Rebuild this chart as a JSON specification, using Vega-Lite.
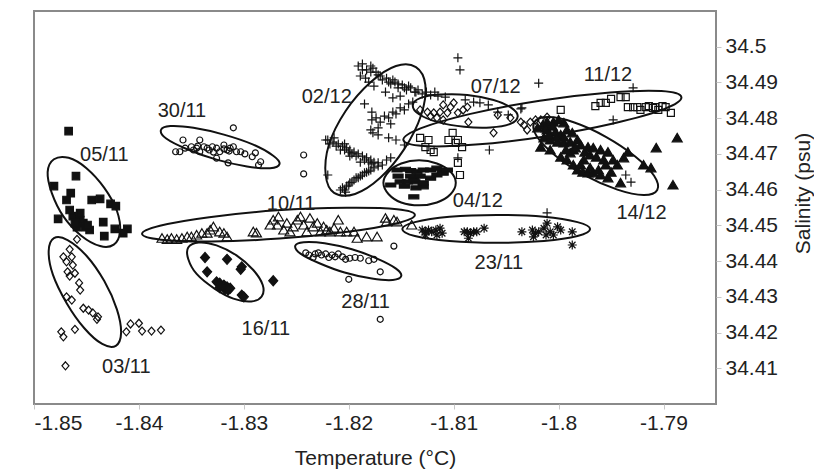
{
  "$schema": "https://vega.github.io/schema/vega-lite/v6.json",
  "width": 682,
  "height": 393,
  "autosize": {"type": "none"},
  "padding": {"left": 34, "top": 11, "right": 98, "bottom": 67},
  "background": "white",
  "config": {
    "view": {"stroke": "#8a8a8a", "strokeWidth": 2},
    "font": "Liberation Sans"
  },
  "datasets": {
    "pts": [
      {"d":"05/11","t":-1.8467,"s":34.4764},{"d":"05/11","t":-1.8460,"s":34.4638},{"d":"05/11","t":-1.8481,"s":34.4610},{"d":"05/11","t":-1.8465,"s":34.4590},{"d":"05/11","t":-1.8469,"s":34.4571},{"d":"05/11","t":-1.8445,"s":34.4571},{"d":"05/11","t":-1.8437,"s":34.4574},{"d":"05/11","t":-1.8427,"s":34.4560},{"d":"05/11","t":-1.8422,"s":34.4554},{"d":"05/11","t":-1.8477,"s":34.4518},{"d":"05/11","t":-1.8463,"s":34.4526},{"d":"05/11","t":-1.8456,"s":34.4515},{"d":"05/11","t":-1.8453,"s":34.4506},{"d":"05/11","t":-1.8459,"s":34.4495},{"d":"05/11","t":-1.8451,"s":34.4495},{"d":"05/11","t":-1.8447,"s":34.4487},{"d":"05/11","t":-1.8434,"s":34.4509},{"d":"05/11","t":-1.8433,"s":34.4470},{"d":"05/11","t":-1.8423,"s":34.4490},{"d":"05/11","t":-1.8411,"s":34.4490},{"d":"05/11","t":-1.8415,"s":34.4478},{"d":"05/11","t":-1.8461,"s":34.4506},{"d":"05/11","t":-1.8449,"s":34.4501},{"d":"05/11","t":-1.8466,"s":34.4543},{"d":"05/11","t":-1.8456,"s":34.4534},
      {"d":"03/11","t":-1.8459,"s":34.4461},{"d":"03/11","t":-1.8466,"s":34.4433},{"d":"03/11","t":-1.8472,"s":34.4412},{"d":"03/11","t":-1.8464,"s":34.4412},{"d":"03/11","t":-1.8469,"s":34.4398},{"d":"03/11","t":-1.8463,"s":34.4389},{"d":"03/11","t":-1.8468,"s":34.4370},{"d":"03/11","t":-1.8461,"s":34.4366},{"d":"03/11","t":-1.8457,"s":34.4339},{"d":"03/11","t":-1.8466,"s":34.4358},{"d":"03/11","t":-1.8456,"s":34.4319},{"d":"03/11","t":-1.8469,"s":34.4300},{"d":"03/11","t":-1.8464,"s":34.4291},{"d":"03/11","t":-1.8453,"s":34.4268},{"d":"03/11","t":-1.8448,"s":34.4263},{"d":"03/11","t":-1.8444,"s":34.4255},{"d":"03/11","t":-1.8440,"s":34.4237},{"d":"03/11","t":-1.8439,"s":34.4244},{"d":"03/11","t":-1.8474,"s":34.4202},{"d":"03/11","t":-1.8472,"s":34.4188},{"d":"03/11","t":-1.8461,"s":34.4209},{"d":"03/11","t":-1.8412,"s":34.4202},{"d":"03/11","t":-1.8408,"s":34.4224},{"d":"03/11","t":-1.8400,"s":34.4226},{"d":"03/11","t":-1.8397,"s":34.4204},{"d":"03/11","t":-1.8388,"s":34.4204},{"d":"03/11","t":-1.8379,"s":34.4207},{"d":"03/11","t":-1.8470,"s":34.4107},
      {"d":"30/11","t":-1.8310,"s":34.4773},{"d":"30/11","t":-1.8358,"s":34.4739},{"d":"30/11","t":-1.8365,"s":34.4706},{"d":"30/11","t":-1.8361,"s":34.4706},{"d":"30/11","t":-1.8356,"s":34.4716},{"d":"30/11","t":-1.8350,"s":34.4720},{"d":"30/11","t":-1.8345,"s":34.4716},{"d":"30/11","t":-1.8342,"s":34.4739},{"d":"30/11","t":-1.8338,"s":34.4720},{"d":"30/11","t":-1.8335,"s":34.4716},{"d":"30/11","t":-1.8330,"s":34.4720},{"d":"30/11","t":-1.8326,"s":34.4716},{"d":"30/11","t":-1.8323,"s":34.4706},{"d":"30/11","t":-1.8319,"s":34.4725},{"d":"30/11","t":-1.8316,"s":34.4711},{"d":"30/11","t":-1.8313,"s":34.4716},{"d":"30/11","t":-1.8310,"s":34.4720},{"d":"30/11","t":-1.8307,"s":34.4706},{"d":"30/11","t":-1.8303,"s":34.4706},{"d":"30/11","t":-1.8299,"s":34.4700},{"d":"30/11","t":-1.8292,"s":34.4692},{"d":"30/11","t":-1.8289,"s":34.4703},{"d":"30/11","t":-1.8286,"s":34.4669},{"d":"30/11","t":-1.8284,"s":34.4678},{"d":"30/11","t":-1.8326,"s":34.4688},{"d":"30/11","t":-1.8315,"s":34.4675},{"d":"30/11","t":-1.8342,"s":34.4706},{"d":"30/11","t":-1.8243,"s":34.4697},{"d":"30/11","t":-1.8243,"s":34.4644},{"d":"30/11","t":-1.8348,"s":34.4711},{"d":"30/11","t":-1.8344,"s":34.4722},{"d":"30/11","t":-1.8333,"s":34.4711},{"d":"30/11","t":-1.8329,"s":34.4705},{"d":"30/11","t":-1.8319,"s":34.4714},{"d":"30/11","t":-1.8314,"s":34.4708},
      {"d":"10/11","t":-1.8378,"s":34.4464},{"d":"10/11","t":-1.8373,"s":34.4461},{"d":"10/11","t":-1.8369,"s":34.4464},{"d":"10/11","t":-1.8364,"s":34.4461},{"d":"10/11","t":-1.8359,"s":34.4464},{"d":"10/11","t":-1.8354,"s":34.4468},{"d":"10/11","t":-1.8350,"s":34.4468},{"d":"10/11","t":-1.8345,"s":34.4473},{"d":"10/11","t":-1.8340,"s":34.4478},{"d":"10/11","t":-1.8335,"s":34.4478},{"d":"10/11","t":-1.8332,"s":34.4487},{"d":"10/11","t":-1.8329,"s":34.4496},{"d":"10/11","t":-1.8323,"s":34.4482},{"d":"10/11","t":-1.8316,"s":34.4468},{"d":"10/11","t":-1.8319,"s":34.4478},{"d":"10/11","t":-1.8291,"s":34.4482},{"d":"10/11","t":-1.8288,"s":34.4479},{"d":"10/11","t":-1.8275,"s":34.4501},{"d":"10/11","t":-1.8272,"s":34.4515},{"d":"10/11","t":-1.8268,"s":34.4501},{"d":"10/11","t":-1.8267,"s":34.4524},{"d":"10/11","t":-1.8262,"s":34.4487},{"d":"10/11","t":-1.8259,"s":34.4506},{"d":"10/11","t":-1.8256,"s":34.4482},{"d":"10/11","t":-1.8253,"s":34.4496},{"d":"10/11","t":-1.8249,"s":34.4515},{"d":"10/11","t":-1.8246,"s":34.4524},{"d":"10/11","t":-1.8243,"s":34.4501},{"d":"10/11","t":-1.8240,"s":34.4482},{"d":"10/11","t":-1.8237,"s":34.4520},{"d":"10/11","t":-1.8234,"s":34.4496},{"d":"10/11","t":-1.8230,"s":34.4506},{"d":"10/11","t":-1.8227,"s":34.4482},{"d":"10/11","t":-1.8224,"s":34.4496},{"d":"10/11","t":-1.8221,"s":34.4487},{"d":"10/11","t":-1.8218,"s":34.4482},{"d":"10/11","t":-1.8214,"s":34.4492},{"d":"10/11","t":-1.8210,"s":34.4515},{"d":"10/11","t":-1.8208,"s":34.4482},{"d":"10/11","t":-1.8202,"s":34.4482},{"d":"10/11","t":-1.8195,"s":34.4482},{"d":"10/11","t":-1.8192,"s":34.4464},{"d":"10/11","t":-1.8183,"s":34.4468},{"d":"10/11","t":-1.8173,"s":34.4468},{"d":"10/11","t":-1.8165,"s":34.4520},{"d":"10/11","t":-1.8164,"s":34.4510},{"d":"10/11","t":-1.8157,"s":34.4515},{"d":"10/11","t":-1.8154,"s":34.4510},{"d":"10/11","t":-1.8140,"s":34.4501},
      {"d":"16/11","t":-1.8337,"s":34.4410},{"d":"16/11","t":-1.8316,"s":34.4405},{"d":"16/11","t":-1.8335,"s":34.4370},{"d":"16/11","t":-1.8303,"s":34.4377},{"d":"16/11","t":-1.8302,"s":34.4384},{"d":"16/11","t":-1.8326,"s":34.4342},{"d":"16/11","t":-1.8323,"s":34.4338},{"d":"16/11","t":-1.8319,"s":34.4333},{"d":"16/11","t":-1.8316,"s":34.4328},{"d":"16/11","t":-1.8313,"s":34.4324},{"d":"16/11","t":-1.8323,"s":34.4326},{"d":"16/11","t":-1.8318,"s":34.4321},{"d":"16/11","t":-1.8315,"s":34.4319},{"d":"16/11","t":-1.8302,"s":34.4305},{"d":"16/11","t":-1.8300,"s":34.4300},{"d":"16/11","t":-1.8272,"s":34.4345},
      {"d":"28/11","t":-1.8241,"s":34.4423},{"d":"28/11","t":-1.8238,"s":34.4417},{"d":"28/11","t":-1.8234,"s":34.4410},{"d":"28/11","t":-1.8232,"s":34.4420},{"d":"28/11","t":-1.8229,"s":34.4423},{"d":"28/11","t":-1.8226,"s":34.4417},{"d":"28/11","t":-1.8222,"s":34.4420},{"d":"28/11","t":-1.8219,"s":34.4410},{"d":"28/11","t":-1.8216,"s":34.4417},{"d":"28/11","t":-1.8213,"s":34.4412},{"d":"28/11","t":-1.8210,"s":34.4420},{"d":"28/11","t":-1.8206,"s":34.4412},{"d":"28/11","t":-1.8203,"s":34.4405},{"d":"28/11","t":-1.8199,"s":34.4408},{"d":"28/11","t":-1.8194,"s":34.4410},{"d":"28/11","t":-1.8189,"s":34.4408},{"d":"28/11","t":-1.8181,"s":34.4401},{"d":"28/11","t":-1.8176,"s":34.4405},{"d":"28/11","t":-1.8170,"s":34.4370},{"d":"28/11","t":-1.8200,"s":34.4349},{"d":"28/11","t":-1.8157,"s":34.4442},{"d":"28/11","t":-1.8170,"s":34.4237},
      {"d":"23/11","t":-1.8130,"s":34.4487},{"d":"23/11","t":-1.8127,"s":34.4482},{"d":"23/11","t":-1.8124,"s":34.4487},{"d":"23/11","t":-1.8121,"s":34.4482},{"d":"23/11","t":-1.8117,"s":34.4487},{"d":"23/11","t":-1.8113,"s":34.4492},{"d":"23/11","t":-1.8111,"s":34.4478},{"d":"23/11","t":-1.8127,"s":34.4473},{"d":"23/11","t":-1.8116,"s":34.4473},{"d":"23/11","t":-1.8090,"s":34.4482},{"d":"23/11","t":-1.8087,"s":34.4482},{"d":"23/11","t":-1.8084,"s":34.4478},{"d":"23/11","t":-1.8081,"s":34.4482},{"d":"23/11","t":-1.8078,"s":34.4482},{"d":"23/11","t":-1.8071,"s":34.4492},{"d":"23/11","t":-1.8086,"s":34.4464},{"d":"23/11","t":-1.8035,"s":34.4482},{"d":"23/11","t":-1.8025,"s":34.4487},{"d":"23/11","t":-1.8022,"s":34.4478},{"d":"23/11","t":-1.8019,"s":34.4482},{"d":"23/11","t":-1.8014,"s":34.4492},{"d":"23/11","t":-1.8011,"s":34.4506},{"d":"23/11","t":-1.8008,"s":34.4482},{"d":"23/11","t":-1.8005,"s":34.4473},{"d":"23/11","t":-1.8001,"s":34.4496},{"d":"23/11","t":-1.7998,"s":34.4487},{"d":"23/11","t":-1.7987,"s":34.4482},{"d":"23/11","t":-1.7987,"s":34.4445},{"d":"23/11","t":-1.8024,"s":34.4468},{"d":"23/11","t":-1.8012,"s":34.4473},
      {"d":"04/12","t":-1.8154,"s":34.4655},{"d":"04/12","t":-1.8146,"s":34.4657},{"d":"04/12","t":-1.8141,"s":34.4653},{"d":"04/12","t":-1.8135,"s":34.4650},{"d":"04/12","t":-1.8129,"s":34.4655},{"d":"04/12","t":-1.8122,"s":34.4655},{"d":"04/12","t":-1.8116,"s":34.4660},{"d":"04/12","t":-1.8111,"s":34.4653},{"d":"04/12","t":-1.8151,"s":34.4622},{"d":"04/12","t":-1.8144,"s":34.4622},{"d":"04/12","t":-1.8137,"s":34.4622},{"d":"04/12","t":-1.8129,"s":34.4619},{"d":"04/12","t":-1.8122,"s":34.4632},{"d":"04/12","t":-1.8116,"s":34.4641},{"d":"04/12","t":-1.8110,"s":34.4646},{"d":"04/12","t":-1.8106,"s":34.4655},{"d":"04/12","t":-1.8129,"s":34.4608},{"d":"04/12","t":-1.8138,"s":34.4580},{"d":"04/12","t":-1.8160,"s":34.4613},{"d":"04/12","t":-1.8138,"s":34.4627},{"d":"04/12","t":-1.8153,"s":34.4638},{"d":"04/12","t":-1.8141,"s":34.4638},{"d":"04/12","t":-1.8132,"s":34.4638},{"d":"04/12","t":-1.8147,"s":34.4610},{"d":"04/12","t":-1.8136,"s":34.4605},
      {"d":"02/12","t":-1.8191,"s":34.4946},{"d":"02/12","t":-1.8187,"s":34.4952},{"d":"02/12","t":-1.8183,"s":34.4935},{"d":"02/12","t":-1.8179,"s":34.4929},{"d":"02/12","t":-1.8184,"s":34.4912},{"d":"02/12","t":-1.8177,"s":34.4940},{"d":"02/12","t":-1.8172,"s":34.4921},{"d":"02/12","t":-1.8168,"s":34.4907},{"d":"02/12","t":-1.8164,"s":34.4912},{"d":"02/12","t":-1.8160,"s":34.4896},{"d":"02/12","t":-1.8156,"s":34.4901},{"d":"02/12","t":-1.8153,"s":34.4885},{"d":"02/12","t":-1.8149,"s":34.4893},{"d":"02/12","t":-1.8145,"s":34.4879},{"d":"02/12","t":-1.8141,"s":34.4885},{"d":"02/12","t":-1.8137,"s":34.4873},{"d":"02/12","t":-1.8134,"s":34.4879},{"d":"02/12","t":-1.8130,"s":34.4868},{"d":"02/12","t":-1.8126,"s":34.4873},{"d":"02/12","t":-1.8122,"s":34.4865},{"d":"02/12","t":-1.8118,"s":34.4873},{"d":"02/12","t":-1.8115,"s":34.4862},{"d":"02/12","t":-1.8189,"s":34.4918},{"d":"02/12","t":-1.8181,"s":34.4901},{"d":"02/12","t":-1.8176,"s":34.4890},{"d":"02/12","t":-1.8165,"s":34.4873},{"d":"02/12","t":-1.8158,"s":34.4857},{"d":"02/12","t":-1.8151,"s":34.4862},
      {"d":"02/12","t":-1.8187,"s":34.4935},{"d":"02/12","t":-1.8179,"s":34.4946},{"d":"02/12","t":-1.8174,"s":34.4929},{"d":"02/12","t":-1.8170,"s":34.4918},{"d":"02/12","t":-1.8162,"s":34.4901},{"d":"02/12","t":-1.8158,"s":34.4907},{"d":"02/12","t":-1.8153,"s":34.4896},{"d":"02/12","t":-1.8147,"s":34.4885},{"d":"02/12","t":-1.8143,"s":34.4890},{"d":"02/12","t":-1.8136,"s":34.4873},
      {"d":"02/12","t":-1.8178,"s":34.4795},{"d":"02/12","t":-1.8174,"s":34.4801},{"d":"02/12","t":-1.8170,"s":34.4789},{"d":"02/12","t":-1.8166,"s":34.4806},{"d":"02/12","t":-1.8162,"s":34.4801},{"d":"02/12","t":-1.8158,"s":34.4817},{"d":"02/12","t":-1.8155,"s":34.4812},{"d":"02/12","t":-1.8151,"s":34.4829},{"d":"02/12","t":-1.8147,"s":34.4823},{"d":"02/12","t":-1.8143,"s":34.4840},{"d":"02/12","t":-1.8139,"s":34.4845},{"d":"02/12","t":-1.8172,"s":34.4773},{"d":"02/12","t":-1.8160,"s":34.4784},
      {"d":"02/12","t":-1.8185,"s":34.4840},{"d":"02/12","t":-1.8178,"s":34.4817},{"d":"02/12","t":-1.8179,"s":34.4767},{"d":"02/12","t":-1.8172,"s":34.4753},{"d":"02/12","t":-1.8162,"s":34.4745},{"d":"02/12","t":-1.8155,"s":34.4739},{"d":"02/12","t":-1.8147,"s":34.4725},{"d":"02/12","t":-1.8177,"s":34.4759},
      {"d":"02/12","t":-1.8222,"s":34.4739},{"d":"02/12","t":-1.8220,"s":34.4739},{"d":"02/12","t":-1.8215,"s":34.4733},{"d":"02/12","t":-1.8210,"s":34.4728},{"d":"02/12","t":-1.8206,"s":34.4722},{"d":"02/12","t":-1.8202,"s":34.4717},{"d":"02/12","t":-1.8199,"s":34.4711},{"d":"02/12","t":-1.8195,"s":34.4705},{"d":"02/12","t":-1.8191,"s":34.4700},{"d":"02/12","t":-1.8187,"s":34.4694},{"d":"02/12","t":-1.8183,"s":34.4689},{"d":"02/12","t":-1.8179,"s":34.4683},{"d":"02/12","t":-1.8176,"s":34.4677},{"d":"02/12","t":-1.8172,"s":34.4675},{"d":"02/12","t":-1.8168,"s":34.4669},{"d":"02/12","t":-1.8164,"s":34.4683},{"d":"02/12","t":-1.8160,"s":34.4689},{"d":"02/12","t":-1.8208,"s":34.4711},{"d":"02/12","t":-1.8199,"s":34.4694},{"d":"02/12","t":-1.8189,"s":34.4677},
      {"d":"02/12","t":-1.8218,"s":34.4728},{"d":"02/12","t":-1.8212,"s":34.4722},{"d":"02/12","t":-1.8204,"s":34.4711},{"d":"02/12","t":-1.8200,"s":34.4705},{"d":"02/12","t":-1.8197,"s":34.4700},{"d":"02/12","t":-1.8193,"s":34.4694},{"d":"02/12","t":-1.8185,"s":34.4683},{"d":"02/12","t":-1.8181,"s":34.4677},{"d":"02/12","t":-1.8178,"s":34.4672},{"d":"02/12","t":-1.8214,"s":34.4745},{"d":"02/12","t":-1.8204,"s":34.4728},
      {"d":"02/12","t":-1.8206,"s":34.4605},{"d":"02/12","t":-1.8202,"s":34.4610},{"d":"02/12","t":-1.8199,"s":34.4619},{"d":"02/12","t":-1.8195,"s":34.4627},{"d":"02/12","t":-1.8191,"s":34.4633},{"d":"02/12","t":-1.8187,"s":34.4641},{"d":"02/12","t":-1.8183,"s":34.4649},{"d":"02/12","t":-1.8179,"s":34.4655},{"d":"02/12","t":-1.8176,"s":34.4661},{"d":"02/12","t":-1.8172,"s":34.4666},{"d":"02/12","t":-1.8203,"s":34.4593},{"d":"02/12","t":-1.8220,"s":34.4641},{"d":"02/12","t":-1.8208,"s":34.4599},
      {"d":"02/12","t":-1.8204,"s":34.4599},{"d":"02/12","t":-1.8200,"s":34.4613},{"d":"02/12","t":-1.8197,"s":34.4621},{"d":"02/12","t":-1.8193,"s":34.4633},{"d":"02/12","t":-1.8189,"s":34.4638},{"d":"02/12","t":-1.8185,"s":34.4647},{"d":"02/12","t":-1.8181,"s":34.4652},
      {"d":"02/12","t":-1.8096,"s":34.4969},{"d":"02/12","t":-1.8094,"s":34.4935},{"d":"02/12","t":-1.8019,"s":34.4898},{"d":"02/12","t":-1.8035,"s":34.4829},{"d":"02/12","t":-1.8066,"s":34.4711},{"d":"02/12","t":-1.7948,"s":34.4795},{"d":"02/12","t":-1.7929,"s":34.4885},{"d":"02/12","t":-1.7936,"s":34.4641},{"d":"02/12","t":-1.7931,"s":34.4621},{"d":"02/12","t":-1.8096,"s":34.4689},{"d":"02/12","t":-1.8011,"s":34.4535},
      {"d":"02/12","t":-1.8108,"s":34.4859},{"d":"02/12","t":-1.8089,"s":34.4851},{"d":"02/12","t":-1.8081,"s":34.4845},{"d":"02/12","t":-1.8075,"s":34.4843},{"d":"02/12","t":-1.8067,"s":34.4837},{"d":"02/12","t":-1.8058,"s":34.4817},{"d":"02/12","t":-1.8048,"s":34.4809},{"d":"02/12","t":-1.8036,"s":34.4826},
      {"d":"07/12","t":-1.8132,"s":34.4823},{"d":"07/12","t":-1.8125,"s":34.4817},{"d":"07/12","t":-1.8119,"s":34.4815},{"d":"07/12","t":-1.8113,"s":34.4817},{"d":"07/12","t":-1.8106,"s":34.4815},{"d":"07/12","t":-1.8103,"s":34.4831},{"d":"07/12","t":-1.8100,"s":34.4843},{"d":"07/12","t":-1.8096,"s":34.4815},{"d":"07/12","t":-1.8091,"s":34.4823},{"d":"07/12","t":-1.8087,"s":34.4831},{"d":"07/12","t":-1.8086,"s":34.4789},{"d":"07/12","t":-1.8116,"s":34.4801},{"d":"07/12","t":-1.8110,"s":34.4795},{"d":"07/12","t":-1.8110,"s":34.4837},{"d":"07/12","t":-1.8122,"s":34.4806},{"d":"07/12","t":-1.8062,"s":34.4759},{"d":"07/12","t":-1.8058,"s":34.4809},{"d":"07/12","t":-1.8046,"s":34.4801},{"d":"07/12","t":-1.8036,"s":34.4789},{"d":"07/12","t":-1.8033,"s":34.4781},{"d":"07/12","t":-1.8030,"s":34.4767},{"d":"07/12","t":-1.8027,"s":34.4789},{"d":"07/12","t":-1.8022,"s":34.4795},{"d":"07/12","t":-1.8017,"s":34.4795},{"d":"07/12","t":-1.8011,"s":34.4803},
      {"d":"11/12","t":-1.7965,"s":34.4834},{"d":"11/12","t":-1.7960,"s":34.4843},{"d":"11/12","t":-1.7955,"s":34.4843},{"d":"11/12","t":-1.7950,"s":34.4854},{"d":"11/12","t":-1.7941,"s":34.4859},{"d":"11/12","t":-1.7936,"s":34.4859},{"d":"11/12","t":-1.7934,"s":34.4831},{"d":"11/12","t":-1.7929,"s":34.4831},{"d":"11/12","t":-1.7925,"s":34.4831},{"d":"11/12","t":-1.7922,"s":34.4823},{"d":"11/12","t":-1.7917,"s":34.4831},{"d":"11/12","t":-1.7914,"s":34.4834},{"d":"11/12","t":-1.7910,"s":34.4829},{"d":"11/12","t":-1.7908,"s":34.4831},{"d":"11/12","t":-1.7905,"s":34.4823},{"d":"11/12","t":-1.7901,"s":34.4834},{"d":"11/12","t":-1.7898,"s":34.4831},{"d":"11/12","t":-1.7893,"s":34.4815},{"d":"11/12","t":-1.7998,"s":34.4823},{"d":"11/12","t":-1.8132,"s":34.4745},{"d":"11/12","t":-1.8124,"s":34.4739},{"d":"11/12","t":-1.8119,"s":34.4705},{"d":"11/12","t":-1.8101,"s":34.4759},{"d":"11/12","t":-1.8098,"s":34.4731},{"d":"11/12","t":-1.8105,"s":34.4739},{"d":"11/12","t":-1.8096,"s":34.4739},{"d":"11/12","t":-1.8092,"s":34.4719},{"d":"11/12","t":-1.8096,"s":34.4675},{"d":"11/12","t":-1.8094,"s":34.4641},{"d":"11/12","t":-1.8127,"s":34.4719},{"d":"11/12","t":-1.8122,"s":34.4711},
      {"d":"14/12","t":-1.8020,"s":34.4773},{"d":"14/12","t":-1.8015,"s":34.4781},{"d":"14/12","t":-1.8011,"s":34.4767},{"d":"14/12","t":-1.8005,"s":34.4789},{"d":"14/12","t":-1.8000,"s":34.4795},{"d":"14/12","t":-1.7995,"s":34.4787},{"d":"14/12","t":-1.8003,"s":34.4761},{"d":"14/12","t":-1.7998,"s":34.4753},{"d":"14/12","t":-1.7992,"s":34.4767},{"d":"14/12","t":-1.7987,"s":34.4759},{"d":"14/12","t":-1.8014,"s":34.4745},{"d":"14/12","t":-1.8008,"s":34.4739},{"d":"14/12","t":-1.8001,"s":34.4733},{"d":"14/12","t":-1.7995,"s":34.4731},{"d":"14/12","t":-1.7989,"s":34.4733},{"d":"14/12","t":-1.7982,"s":34.4739},{"d":"14/12","t":-1.7979,"s":34.4725},{"d":"14/12","t":-1.7972,"s":34.4719},{"d":"14/12","t":-1.7967,"s":34.4717},{"d":"14/12","t":-1.7960,"s":34.4711},{"d":"14/12","t":-1.7953,"s":34.4705},{"d":"14/12","t":-1.7948,"s":34.4683},{"d":"14/12","t":-1.7938,"s":34.4689},{"d":"14/12","t":-1.7934,"s":34.4705},{"d":"14/12","t":-1.7944,"s":34.4669},{"d":"14/12","t":-1.7998,"s":34.4691},{"d":"14/12","t":-1.7992,"s":34.4683},{"d":"14/12","t":-1.7986,"s":34.4669},{"d":"14/12","t":-1.7982,"s":34.4655},{"d":"14/12","t":-1.7977,"s":34.4649},{"d":"14/12","t":-1.7972,"s":34.4647},{"d":"14/12","t":-1.7967,"s":34.4647},{"d":"14/12","t":-1.7960,"s":34.4641},{"d":"14/12","t":-1.7953,"s":34.4633},{"d":"14/12","t":-1.7941,"s":34.4619},{"d":"14/12","t":-1.7919,"s":34.4669},{"d":"14/12","t":-1.7912,"s":34.4661},{"d":"14/12","t":-1.7986,"s":34.4711},{"d":"14/12","t":-1.7989,"s":34.4703},{"d":"14/12","t":-1.8008,"s":34.4711},{"d":"14/12","t":-1.8017,"s":34.4719},{"d":"14/12","t":-1.8011,"s":34.4789},{"d":"14/12","t":-1.7976,"s":34.4683},{"d":"14/12","t":-1.7907,"s":34.4717},{"d":"14/12","t":-1.7887,"s":34.4745},{"d":"14/12","t":-1.7891,"s":34.4613},
      {"d":"14/12","t":-1.8012,"s":34.4773},{"d":"14/12","t":-1.8006,"s":34.4778},{"d":"14/12","t":-1.8009,"s":34.4753},{"d":"14/12","t":-1.8002,"s":34.4747},{"d":"14/12","t":-1.7995,"s":34.4747},{"d":"14/12","t":-1.7984,"s":34.4717},{"d":"14/12","t":-1.7975,"s":34.4705},{"d":"14/12","t":-1.7970,"s":34.4697},{"d":"14/12","t":-1.7964,"s":34.4691},{"d":"14/12","t":-1.7957,"s":34.4683},{"d":"14/12","t":-1.7993,"s":34.4711},{"d":"14/12","t":-1.7979,"s":34.4669},{"d":"14/12","t":-1.7970,"s":34.4661},{"d":"14/12","t":-1.7962,"s":34.4655},{"d":"14/12","t":-1.7950,"s":34.4649},{"d":"14/12","t":-1.7955,"s":34.4669}
    ],
    "ell": [
      {"e":"05/11","i":0,"t":-1.8424,"s":34.4446},{"e":"05/11","i":1,"t":-1.8437,"s":34.4442},{"e":"05/11","i":2,"t":-1.8455,"s":34.4471},{"e":"05/11","i":3,"t":-1.8472,"s":34.4525},{"e":"05/11","i":4,"t":-1.8483,"s":34.4590},{"e":"05/11","i":5,"t":-1.8487,"s":34.4649},{"e":"05/11","i":6,"t":-1.8481,"s":34.4685},{"e":"05/11","i":7,"t":-1.8467,"s":34.4689},{"e":"05/11","i":8,"t":-1.8450,"s":34.4660},{"e":"05/11","i":9,"t":-1.8433,"s":34.4605},{"e":"05/11","i":10,"t":-1.8421,"s":34.4541},{"e":"05/11","i":11,"t":-1.8418,"s":34.4482},
      {"e":"03/11","i":0,"t":-1.8422,"s":34.4163},{"e":"03/11","i":1,"t":-1.8435,"s":34.4168},{"e":"03/11","i":2,"t":-1.8452,"s":34.4212},{"e":"03/11","i":3,"t":-1.8469,"s":34.4283},{"e":"03/11","i":4,"t":-1.8482,"s":34.4362},{"e":"03/11","i":5,"t":-1.8486,"s":34.4428},{"e":"03/11","i":6,"t":-1.8481,"s":34.4464},{"e":"03/11","i":7,"t":-1.8468,"s":34.4459},{"e":"03/11","i":8,"t":-1.8450,"s":34.4415},{"e":"03/11","i":9,"t":-1.8433,"s":34.4344},{"e":"03/11","i":10,"t":-1.8421,"s":34.4265},{"e":"03/11","i":11,"t":-1.8417,"s":34.4199},
      {"e":"30/11","i":0,"t":-1.8266,"s":34.4672},{"e":"30/11","i":1,"t":-1.8275,"s":34.4660},{"e":"30/11","i":2,"t":-1.8297,"s":34.4665},{"e":"30/11","i":3,"t":-1.8326,"s":34.4684},{"e":"30/11","i":4,"t":-1.8354,"s":34.4713},{"e":"30/11","i":5,"t":-1.8374,"s":34.4743},{"e":"30/11","i":6,"t":-1.8379,"s":34.4767},{"e":"30/11","i":7,"t":-1.8370,"s":34.4778},{"e":"30/11","i":8,"t":-1.8348,"s":34.4773},{"e":"30/11","i":9,"t":-1.8319,"s":34.4754},{"e":"30/11","i":10,"t":-1.8291,"s":34.4726},{"e":"30/11","i":11,"t":-1.8272,"s":34.4695},
      {"e":"10/11","i":0,"t":-1.8137,"s":34.4529},{"e":"10/11","i":1,"t":-1.8154,"s":34.4506},{"e":"10/11","i":2,"t":-1.8201,"s":34.4482},{"e":"10/11","i":3,"t":-1.8266,"s":34.4463},{"e":"10/11","i":4,"t":-1.8331,"s":34.4455},{"e":"10/11","i":5,"t":-1.8379,"s":34.4460},{"e":"10/11","i":6,"t":-1.8397,"s":34.4476},{"e":"10/11","i":7,"t":-1.8380,"s":34.4499},{"e":"10/11","i":8,"t":-1.8333,"s":34.4523},{"e":"10/11","i":9,"t":-1.8268,"s":34.4542},{"e":"10/11","i":10,"t":-1.8202,"s":34.4549},{"e":"10/11","i":11,"t":-1.8154,"s":34.4545},
      {"e":"16/11","i":0,"t":-1.8283,"s":34.4301},{"e":"16/11","i":1,"t":-1.8293,"s":34.4287},{"e":"16/11","i":2,"t":-1.8310,"s":34.4295},{"e":"16/11","i":3,"t":-1.8328,"s":34.4323},{"e":"16/11","i":4,"t":-1.8345,"s":34.4364},{"e":"16/11","i":5,"t":-1.8353,"s":34.4406},{"e":"16/11","i":6,"t":-1.8353,"s":34.4438},{"e":"16/11","i":7,"t":-1.8343,"s":34.4452},{"e":"16/11","i":8,"t":-1.8326,"s":34.4444},{"e":"16/11","i":9,"t":-1.8307,"s":34.4416},{"e":"16/11","i":10,"t":-1.8291,"s":34.4375},{"e":"16/11","i":11,"t":-1.8282,"s":34.4333},
      {"e":"28/11","i":0,"t":-1.8150,"s":34.4358},{"e":"28/11","i":1,"t":-1.8158,"s":34.4347},{"e":"28/11","i":2,"t":-1.8178,"s":34.4351},{"e":"28/11","i":3,"t":-1.8204,"s":34.4368},{"e":"28/11","i":4,"t":-1.8228,"s":34.4394},{"e":"28/11","i":5,"t":-1.8246,"s":34.4421},{"e":"28/11","i":6,"t":-1.8251,"s":34.4443},{"e":"28/11","i":7,"t":-1.8243,"s":34.4453},{"e":"28/11","i":8,"t":-1.8223,"s":34.4450},{"e":"28/11","i":9,"t":-1.8197,"s":34.4433},{"e":"28/11","i":10,"t":-1.8173,"s":34.4407},{"e":"28/11","i":11,"t":-1.8155,"s":34.4379},
      {"e":"23/11","i":0,"t":-1.7970,"s":34.4490},{"e":"23/11","i":1,"t":-1.7982,"s":34.4470},{"e":"23/11","i":2,"t":-1.8014,"s":34.4456},{"e":"23/11","i":3,"t":-1.8059,"s":34.4451},{"e":"23/11","i":4,"t":-1.8104,"s":34.4456},{"e":"23/11","i":5,"t":-1.8137,"s":34.4470},{"e":"23/11","i":6,"t":-1.8149,"s":34.4490},{"e":"23/11","i":7,"t":-1.8137,"s":34.4509},{"e":"23/11","i":8,"t":-1.8104,"s":34.4524},{"e":"23/11","i":9,"t":-1.8059,"s":34.4529},{"e":"23/11","i":10,"t":-1.8014,"s":34.4524},{"e":"23/11","i":11,"t":-1.7982,"s":34.4509},
      {"e":"04/12","i":0,"t":-1.8098,"s":34.4619},{"e":"04/12","i":1,"t":-1.8103,"s":34.4587},{"e":"04/12","i":2,"t":-1.8116,"s":34.4564},{"e":"04/12","i":3,"t":-1.8133,"s":34.4556},{"e":"04/12","i":4,"t":-1.8150,"s":34.4564},{"e":"04/12","i":5,"t":-1.8162,"s":34.4587},{"e":"04/12","i":6,"t":-1.8167,"s":34.4619},{"e":"04/12","i":7,"t":-1.8162,"s":34.4650},{"e":"04/12","i":8,"t":-1.8150,"s":34.4673},{"e":"04/12","i":9,"t":-1.8133,"s":34.4682},{"e":"04/12","i":10,"t":-1.8116,"s":34.4673},{"e":"04/12","i":11,"t":-1.8103,"s":34.4650},
      {"e":"02/12","i":0,"t":-1.8136,"s":34.4943},{"e":"02/12","i":1,"t":-1.8127,"s":34.4893},{"e":"02/12","i":2,"t":-1.8131,"s":34.4809},{"e":"02/12","i":3,"t":-1.8147,"s":34.4714},{"e":"02/12","i":4,"t":-1.8170,"s":34.4633},{"e":"02/12","i":5,"t":-1.8194,"s":34.4588},{"e":"02/12","i":6,"t":-1.8214,"s":34.4591},{"e":"02/12","i":7,"t":-1.8222,"s":34.4641},{"e":"02/12","i":8,"t":-1.8219,"s":34.4725},{"e":"02/12","i":9,"t":-1.8203,"s":34.4820},{"e":"02/12","i":10,"t":-1.8179,"s":34.4901},{"e":"02/12","i":11,"t":-1.8155,"s":34.4946},
      {"e":"07/12","i":0,"t":-1.8039,"s":34.4805},{"e":"07/12","i":1,"t":-1.8046,"s":34.4784},{"e":"07/12","i":2,"t":-1.8065,"s":34.4774},{"e":"07/12","i":3,"t":-1.8090,"s":34.4776},{"e":"07/12","i":4,"t":-1.8115,"s":34.4789},{"e":"07/12","i":5,"t":-1.8133,"s":34.4811},{"e":"07/12","i":6,"t":-1.8139,"s":34.4836},{"e":"07/12","i":7,"t":-1.8132,"s":34.4856},{"e":"07/12","i":8,"t":-1.8113,"s":34.4866},{"e":"07/12","i":9,"t":-1.8087,"s":34.4865},{"e":"07/12","i":10,"t":-1.8062,"s":34.4851},{"e":"07/12","i":11,"t":-1.8045,"s":34.4829},
      {"e":"11/12","i":0,"t":-1.7883,"s":34.4859},{"e":"11/12","i":1,"t":-1.7899,"s":34.4826},{"e":"11/12","i":2,"t":-1.7947,"s":34.4786},{"e":"11/12","i":3,"t":-1.8013,"s":34.4749},{"e":"11/12","i":4,"t":-1.8079,"s":34.4726},{"e":"11/12","i":5,"t":-1.8129,"s":34.4722},{"e":"11/12","i":6,"t":-1.8148,"s":34.4739},{"e":"11/12","i":7,"t":-1.8131,"s":34.4772},{"e":"11/12","i":8,"t":-1.8084,"s":34.4812},{"e":"11/12","i":9,"t":-1.8018,"s":34.4849},{"e":"11/12","i":10,"t":-1.7951,"s":34.4872},{"e":"11/12","i":11,"t":-1.7902,"s":34.4876},
      {"e":"14/12","i":0,"t":-1.7906,"s":34.4599},{"e":"14/12","i":1,"t":-1.7919,"s":34.4585},{"e":"14/12","i":2,"t":-1.7944,"s":34.4600},{"e":"14/12","i":3,"t":-1.7975,"s":34.4640},{"e":"14/12","i":4,"t":-1.8003,"s":34.4695},{"e":"14/12","i":5,"t":-1.8021,"s":34.4750},{"e":"14/12","i":6,"t":-1.8023,"s":34.4789},{"e":"14/12","i":7,"t":-1.8010,"s":34.4803},{"e":"14/12","i":8,"t":-1.7985,"s":34.4788},{"e":"14/12","i":9,"t":-1.7955,"s":34.4748},{"e":"14/12","i":10,"t":-1.7927,"s":34.4693},{"e":"14/12","i":11,"t":-1.7909,"s":34.4639}
    ],
    "lab": [
      {"l":"05/11","t":-1.8433,"s":34.4697},
      {"l":"30/11","t":-1.8359,"s":34.4820},
      {"l":"03/11","t":-1.8412,"s":34.4104},
      {"l":"16/11","t":-1.8279,"s":34.4210},
      {"l":"10/11","t":-1.8255,"s":34.4560},
      {"l":"28/11","t":-1.8184,"s":34.4286},
      {"l":"23/11","t":-1.8057,"s":34.4395},
      {"l":"04/12","t":-1.8077,"s":34.4568},
      {"l":"14/12","t":-1.7921,"s":34.4535},
      {"l":"02/12","t":-1.8221,"s":34.4859},
      {"l":"07/12","t":-1.8060,"s":34.4887},
      {"l":"11/12","t":-1.7953,"s":34.4921}
    ]
  },
  "encoding": {
    "x": {
      "field": "t", "type": "quantitative",
      "scale": {"domain": [-1.85, -1.785], "nice": false, "zero": false},
      "axis": {
        "title": "Temperature (°C)",
        "values": [-1.85, -1.84, -1.83, -1.82, -1.81, -1.8, -1.79],
        "labelExpr": "'-' + format(abs(datum.value), '.3~g')",
        "grid": false, "domain": false,
        "tickColor": "#c8c8c8", "tickSize": 5, "labelPadding": 3,
        "labelFontSize": 21, "labelColor": "#222", "labelFont": "Liberation Sans",
        "titleFontSize": 21, "titleColor": "#222", "titleFont": "Liberation Sans",
        "titleFontWeight": "normal", "titlePadding": 14
      }
    },
    "y": {
      "field": "s", "type": "quantitative",
      "scale": {"domain": [34.40, 34.51], "nice": false, "zero": false},
      "axis": {
        "orient": "right",
        "title": "Salinity (psu)",
        "values": [34.41, 34.42, 34.43, 34.44, 34.45, 34.46, 34.47, 34.48, 34.49, 34.5],
        "format": ".4~g",
        "grid": false, "domain": false,
        "tickColor": "#c8c8c8", "tickSize": 5, "labelPadding": 4,
        "labelFontSize": 21, "labelColor": "#222", "labelFont": "Liberation Sans",
        "titleFontSize": 21, "titleColor": "#222", "titleFont": "Liberation Sans",
        "titleFontWeight": "normal", "titleAngle": 270,
        "titleX": 87, "titleY": 182, "titleAlign": "center", "titleBaseline": "middle"
      }
    }
  },
  "layer": [
    {
      "data": {"name": "ell"},
      "mark": {"type": "line", "interpolate": "cardinal-closed", "color": "#111", "strokeWidth": 2},
      "encoding": {
        "detail": {"field": "e", "type": "nominal"},
        "order": {"field": "i", "type": "quantitative"}
      }
    },
    {
      "data": {"name": "pts"},
      "mark": {"type": "point", "size": 100, "stroke": "#111", "strokeWidth": 1.2, "opacity": 1},
      "encoding": {
        "shape": {
          "field": "d", "type": "nominal", "legend": null,
          "scale": {
            "domain": ["05/11","03/11","30/11","10/11","16/11","28/11","23/11","02/12","04/12","07/12","11/12","14/12"],
            "range": [
              "M-0.75,-0.75H0.75V0.75H-0.75Z",
              "M0,-0.8L0.7,0L0,0.8L-0.7,0Z",
              "M-0.6,0A0.6,0.6,0,1,0,0.6,0A0.6,0.6,0,1,0,-0.6,0Z",
              "M0,-0.9L1,0.8L-1,0.8Z",
              "M0,-1L0.9,0L0,1L-0.9,0Z",
              "M-0.6,0A0.6,0.6,0,1,0,0.6,0A0.6,0.6,0,1,0,-0.6,0Z",
              "M-0.9,0H0.9M0,-0.9V0.9M-0.65,-0.65L0.65,0.65M-0.65,0.65L0.65,-0.65",
              "M-0.9,0H0.9M0,-0.9V0.9",
              "M-1,-0.4H1V0.4H-1Z",
              "M0,-0.8L0.7,0L0,0.8L-0.7,0Z",
              "M-0.7,-0.7H0.7V0.7H-0.7Z",
              "M0,-0.9L1,0.8L-1,0.8Z"
            ]
          }
        },
        "fill": {
          "field": "d", "type": "nominal", "legend": null,
          "scale": {
            "domain": ["05/11","03/11","30/11","10/11","16/11","28/11","23/11","02/12","04/12","07/12","11/12","14/12"],
            "range": ["#111","transparent","transparent","transparent","#111","transparent","transparent","transparent","#111","transparent","transparent","#111"]
          }
        }
      }
    },
    {
      "data": {"name": "lab"},
      "mark": {"type": "text", "font": "Liberation Sans", "fontSize": 20, "color": "#222", "align": "center", "baseline": "middle"},
      "encoding": {
        "text": {"field": "l", "type": "nominal"}
      }
    }
  ]
}
